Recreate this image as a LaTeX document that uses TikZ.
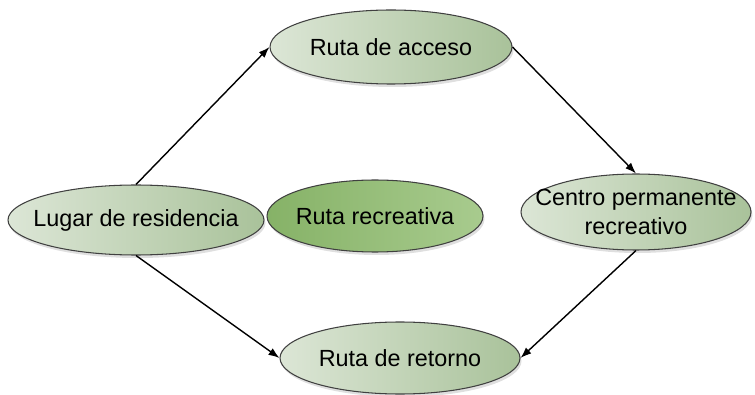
\documentclass[tikz,border=0pt]{standalone}
\usepackage{xcolor}
\usepackage{fontspec}
\setmainfont{Liberation Sans}
\usetikzlibrary{shapes.geometric,arrows.meta,shadows}

\definecolor{paleGreen}{HTML}{DCE6D6}
\definecolor{midGreen}{HTML}{A9C29A}
\definecolor{deepGreen}{HTML}{86B267}
\definecolor{lightDeep}{HTML}{A8CB8E}

\begin{document}
\begin{tikzpicture}[>={Latex[length=2.2mm,width=1.6mm]},
  zone/.style={draw=black!75, ellipse, inner xsep=-40pt, inner ysep=-6pt, line width=0.6pt,
    left color=paleGreen, right color=midGreen,
    drop shadow={opacity=0.25, shadow xshift=0.3mm, shadow yshift=-0.6mm},
    font=\fontsize{13.3}{16}\selectfont, align=center},
  link/.style={->, line width=0.8pt}]
  \useasboundingbox (0,0) rectangle (15.1,7.88);

  % Define blocks
  \node [zone, minimum width=5.12cm, minimum height=1.40cm] (lugar) at (2.72,3.48) {Lugar de residencia};
  \node [zone, minimum width=4.84cm, minimum height=1.48cm] (acceso) at (7.82,6.94) {Ruta de acceso};
  \node [zone, minimum width=4.32cm, minimum height=1.44cm, left color=deepGreen, right color=lightDeep] (recreativa) at (7.50,3.56) {Ruta recreativa};
  \node [zone, minimum width=4.60cm, minimum height=1.52cm] (centro) at (12.72,3.64) {Centro permanente\\recreativo};
  \node [zone, minimum width=4.80cm, minimum height=1.44cm] (retorno) at (8.00,0.72) {Ruta de retorno};

  % Connect blocks with arrows
  \draw [link] (lugar.north) -- (acceso.west);
  \draw [link] (acceso.east) -- (centro.north);
  \draw [link] (centro.south) -- (retorno.east);
  \draw [link] (lugar.south) -- (retorno.west);
\end{tikzpicture}
\end{document}
